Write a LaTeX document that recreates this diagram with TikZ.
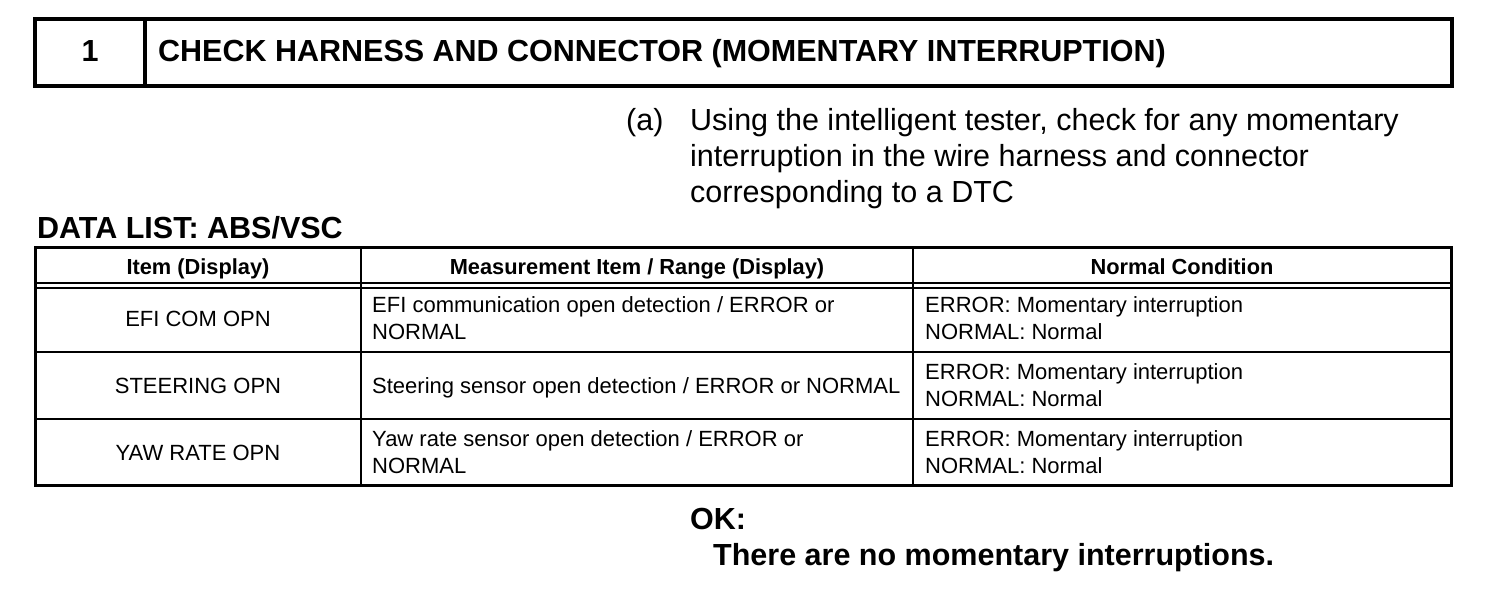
\documentclass[tikz,border=0pt]{standalone}
\usepackage{fontspec}
\setmainfont{Liberation Sans}
\begin{document}
\begin{tikzpicture}[x=1pt,y=-1pt,
  bigb/.style={font=\fontsize{30.5}{36}\selectfont\bfseries, inner sep=0pt, anchor=base west},
  bigr/.style={font=\fontsize{30.5}{36}\selectfont, inner sep=0pt, anchor=base west},
  cellb/.style={font=\fontsize{21.8}{27}\selectfont\bfseries, inner sep=0pt, anchor=base},
  cellc/.style={font=\fontsize{22}{27}\selectfont, inner sep=0pt, anchor=base},
  celll/.style={font=\fontsize{22}{27}\selectfont, inner sep=0pt, anchor=base west},
  frame/.style={line width=4pt},
  outer/.style={line width=3pt},
  inner/.style={line width=2pt}]
\useasboundingbox (0,0) rectangle (1504,600);
% header box
\draw[frame] (35,19) rectangle (1452,86);
\draw[frame] (145,19) -- (145,86);
\node[bigb, anchor=base] (num) at (90,61) {1};
\node[bigb] (title) at (158,61) {CHECK HARNESS AND CONNECTOR (MOMENTARY INTERRUPTION)};
% instruction
\node[bigr] (a) at (626,130) {(a)};
\node[bigr] (a1) at (690,130) {Using the intelligent tester, check for any momentary};
\node[bigr] (a2) at (690,166) {interruption in the wire harness and connector};
\node[bigr] (a3) at (690,202) {corresponding to a DTC};
% data list
\node[bigb] (dl) at (37,238) {DATA LIST: ABS/VSC};
% table
\draw[outer] (35,247) rectangle (1451,485);
\draw[inner] (35,283) -- (1451,283);
\draw[inner] (35,288) -- (1451,288);
\draw[inner] (35,352) -- (1451,352);
\draw[inner] (35,419) -- (1451,419);
\draw[inner] (361,247) -- (361,485);
\draw[inner] (913,247) -- (913,485);
\node[cellb] (h1) at (198,274) {Item (Display)};
\node[cellb] (h2) at (637,274) {Measurement Item / Range (Display)};
\node[cellb] (h3) at (1182,274) {Normal Condition};
% row 1
\node[cellc] (r1c1) at (198,326) {EFI COM OPN};
\node[celll] (r1c2a) at (372,312) {EFI communication open detection / ERROR or};
\node[celll] (r1c2b) at (372,339) {NORMAL};
\node[celll] (r1c3a) at (925,312) {ERROR: Momentary interruption};
\node[celll] (r1c3b) at (925,339) {NORMAL: Normal};
% row 2
\node[cellc] (r2c1) at (198,393) {STEERING OPN};
\node[celll] (r2c2) at (372,393) {Steering sensor open detection / ERROR or NORMAL};
\node[celll] (r2c3a) at (925,379) {ERROR: Momentary interruption};
\node[celll] (r2c3b) at (925,406) {NORMAL: Normal};
% row 3
\node[cellc] (r3c1) at (198,460) {YAW RATE OPN};
\node[celll] (r3c2a) at (372,446) {Yaw rate sensor open detection / ERROR or};
\node[celll] (r3c2b) at (372,473) {NORMAL};
\node[celll] (r3c3a) at (925,446) {ERROR: Momentary interruption};
\node[celll] (r3c3b) at (925,473) {NORMAL: Normal};
% OK
\node[bigb] (ok) at (690,529) {OK:};
\node[bigb] (ok1) at (713,565) {There are no momentary interruptions.};
\end{tikzpicture}
\end{document}
